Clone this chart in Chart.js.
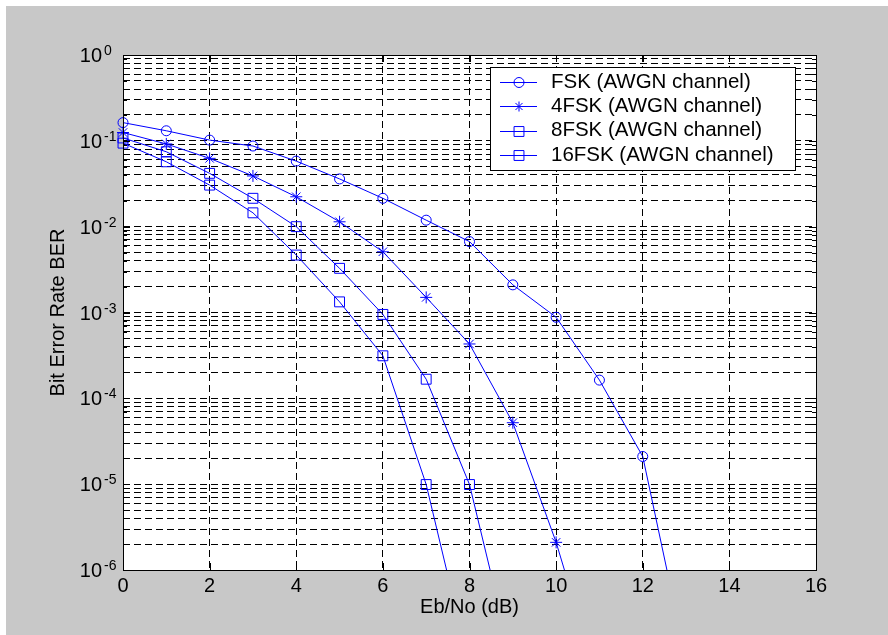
<!DOCTYPE html>
<html>
<head>
<meta charset="utf-8">
<script src="https://cdn.jsdelivr.net/npm/chart.js@4/dist/chart.umd.min.js"></script>
<style>
  html, body { margin: 0; padding: 0; background: #c8c8c8; }
  canvas { display: block; }
</style>
</head>
<body>
<canvas id="berChart" width="888" height="635"></canvas>
<script>
// Eb/No (dB) sample points and simulated BER for each modulation
const ebNo = [0, 1, 2, 3, 4, 5, 6, 7, 8, 9, 10, 11, 12, 13];
const berFsk = [0.163, 0.131, 0.102, 0.087, 0.058, 0.036, 0.0214, 0.0119, 0.0067, 0.0021, 0.00088, 1.63e-4, 2.1e-5, 9e-8];
const ber4Fsk = [0.125, 0.092, 0.0625, 0.039, 0.0223, 0.0114, 0.0051, 0.0015, 4.3e-4, 5.2e-5, 2.1e-6, 4.4e-8];
const ber8Fsk = [0.108, 0.0746, 0.0418, 0.0214, 0.01, 0.00327, 9.5e-4, 1.67e-4, 9.9e-6, 8e-8];
const ber16Fsk = [0.094, 0.057, 0.0305, 0.0145, 0.00467, 0.00133, 3.13e-4, 9.9e-6, 7.6e-8];

const seriesLabels = ['FSK (AWGN channel)', '4FSK (AWGN channel)', '8FSK (AWGN channel)', '16FSK (AWGN channel)'];

// axis ticks
const xTicks = [0, 2, 4, 6, 8, 10, 12, 14, 16];
const yDecades = [-6, -5, -4, -3, -2, -1, 0];
const yMantissas = [1, 2, 3, 4, 5, 6, 7, 8, 9];

const FONT = "'Liberation Sans', Arial, sans-serif";
const BLUE = '#0000ff';
const Y_MIN = Math.pow(10, yDecades[0]);
const Y_MAX = Math.pow(10, yDecades[yDecades.length - 1]);

function toPoints(values) {
  return values.map((v, i) => ({ x: ebNo[i], y: v }));
}

function makeDataset(label, values, pointStyle, radius) {
  return {
    label,
    data: toPoints(values),
    borderColor: BLUE,
    borderWidth: 1,
    pointStyle,
    pointBorderColor: BLUE,
    pointBackgroundColor: 'rgba(0,0,0,0)',
    pointBorderWidth: 1,
    pointRadius: (ctx) => (ctx.raw && ctx.raw.y < Y_MIN ? 0 : radius),
    pointHoverRadius: radius,
    tension: 0,
    clip: { left: 10, top: 10, right: 10, bottom: 0 },
  };
}

const datasets = [
  makeDataset(seriesLabels[0], berFsk, 'circle', 5),
  makeDataset(seriesLabels[1], ber4Fsk, 'star', 6),
  makeDataset(seriesLabels[2], ber8Fsk, 'rect', 7),
  makeDataset(seriesLabels[3], ber16Fsk, 'rect', 7),
];

// grey figure background, white plot area
const backdrop = {
  id: 'backdrop',
  beforeDraw(chart) {
    const { ctx, width, height, chartArea: a } = chart;
    ctx.save();
    ctx.fillStyle = '#c8c8c8';
    ctx.fillRect(0, 0, width, height);
    ctx.fillStyle = '#ffffff';
    ctx.fillRect(0, 0, width, 6);
    ctx.fillRect(0, 0, 6, height);
    ctx.fillRect(a.left, a.top, a.right - a.left, a.bottom - a.top);
    ctx.restore();
  },
};

// axes box, inner tick marks, superscript y labels, legend
const decorations = {
  id: 'decorations',
  afterDraw(chart) {
    const { ctx, chartArea: a, scales } = chart;
    const xs = scales.x;
    const ys = scales.y;
    ctx.save();

    // tick marks
    ctx.strokeStyle = '#000';
    ctx.lineWidth = 1;
    ctx.beginPath();
    ys.ticks.forEach((t) => {
      const y = Math.round(ys.getPixelForValue(t.value)) + 0.5;
      const len = t.major ? 7 : 4;
      ctx.moveTo(a.left, y); ctx.lineTo(a.left + len, y);
      ctx.moveTo(a.right, y); ctx.lineTo(a.right - len, y);
    });
    xTicks.forEach((v) => {
      const x = Math.round(xs.getPixelForValue(v)) + 0.5;
      ctx.moveTo(x, a.bottom); ctx.lineTo(x, a.bottom - 7);
      ctx.moveTo(x, a.top); ctx.lineTo(x, a.top + 7);
    });
    ctx.stroke();

    // box
    ctx.strokeRect(Math.round(a.left) + 0.5, Math.round(a.top) + 0.5,
      Math.round(a.right - a.left), Math.round(a.bottom - a.top));

    // y tick labels 10^n
    ctx.fillStyle = '#000';
    yDecades.forEach((e) => {
      const y = ys.getPixelForValue(Math.pow(10, e));
      ctx.font = '20px ' + FONT;
      ctx.textAlign = 'right';
      ctx.textBaseline = 'alphabetic';
      ctx.fillText('10', a.left - 21, y + 7);
      ctx.font = '14px ' + FONT;
      ctx.textAlign = 'left';
      ctx.fillText(String(e), a.left - 19, y);
    });

    // legend
    const box = { left: 490, top: 67, right: 795, bottom: 170 };
    ctx.fillStyle = '#fff';
    ctx.fillRect(box.left, box.top, box.right - box.left, box.bottom - box.top);
    ctx.strokeStyle = '#000';
    ctx.strokeRect(box.left + 0.5, box.top + 0.5, box.right - box.left, box.bottom - box.top);
    chart.data.datasets.forEach((ds, i) => {
      const y = 82 + i * 24.4;
      ctx.strokeStyle = BLUE;
      ctx.lineWidth = 1;
      ctx.beginPath();
      ctx.moveTo(500, Math.round(y) + 0.5);
      ctx.lineTo(537, Math.round(y) + 0.5);
      ctx.stroke();
      ctx.fillStyle = 'rgba(0,0,0,0)';
      Chart.helpers.drawPoint(ctx, {
        pointStyle: ds.pointStyle,
        radius: ds.pointStyle === 'rect' ? 7 : 5,
        rotation: 0,
        borderWidth: 1,
      }, 519, Math.round(y) + 0.5);
      ctx.fillStyle = '#000';
      ctx.font = '20.5px ' + FONT;
      ctx.textAlign = 'left';
      ctx.textBaseline = 'middle';
      ctx.fillText(ds.label, 551, y);
    });
    ctx.restore();
  },
};

new Chart(document.getElementById('berChart').getContext('2d'), {
  type: 'line',
  data: { datasets },
  options: {
    responsive: false,
    animation: false,
    devicePixelRatio: 1,
    layout: { padding: { top: 55, right: 72, left: 0, bottom: 0 } },
    plugins: {
      legend: { display: false },
      tooltip: { enabled: false },
    },
    scales: {
      x: {
        type: 'linear',
        min: xTicks[0],
        max: xTicks[xTicks.length - 1],
        afterBuildTicks: (scale) => { scale.ticks = xTicks.map((v) => ({ value: v })); },
        afterFit: (scale) => { scale.height = 65; },
        ticks: { color: '#000', font: { size: 20, family: FONT }, padding: 4, maxRotation: 0 },
        grid: { color: '#000', lineWidth: 1, drawTicks: false },
        border: { display: false, dash: [7, 4] },
        title: {
          display: true,
          text: 'Eb/No (dB)',
          color: '#000',
          font: { size: 20, family: FONT },
          padding: { top: 0, bottom: 16 },
        },
      },
      y: {
        type: 'logarithmic',
        min: Y_MIN,
        max: Y_MAX,
        afterBuildTicks: (scale) => {
          const ticks = [];
          yDecades.forEach((e) => {
            yMantissas.forEach((m) => {
              const v = m * Math.pow(10, e);
              if (v <= Y_MAX * 1.0001) ticks.push({ value: v, major: m === 1 });
            });
          });
          scale.ticks = ticks;
        },
        afterFit: (scale) => { scale.width = 123; },
        ticks: { display: false },
        grid: { color: '#000', lineWidth: 1, drawTicks: false },
        border: { display: false, dash: [7, 4] },
        title: {
          display: true,
          text: 'Bit Error Rate BER',
          color: '#000',
          font: { size: 20, family: FONT },
          padding: { top: 46, bottom: 0 },
        },
      },
    },
  },
  plugins: [backdrop, decorations],
});
</script>
</body>
</html>
